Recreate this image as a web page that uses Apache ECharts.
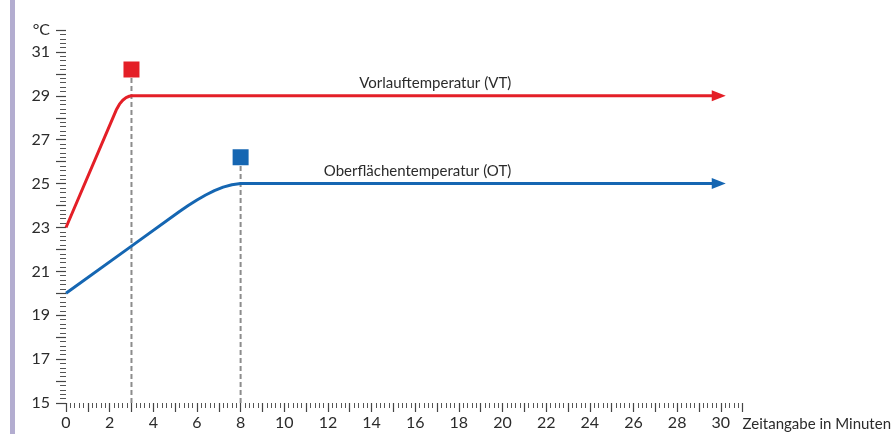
<!DOCTYPE html>
<html>
<head>
<meta charset="utf-8">
<script src="https://cdn.jsdelivr.net/npm/echarts@6/dist/echarts.min.js"></script>
<style>html,body{margin:0;padding:0;background:#fff}#c{width:894px;height:434px}</style>
</head>
<body>
<div id="c"></div>
<script>
// ---- data ----
const vtPoints = [[0, 23], [2.3, 28.35], [2.45, 28.62], [2.6, 28.8], [2.75, 28.92], [2.9, 28.98], [3, 29], [30, 29]];
const otPoints = [[0, 20], [3, 22.15], [5.2, 23.73], [5.6, 24.0], [6.0, 24.25], [6.4, 24.48], [6.8, 24.68], [7.2, 24.84], [7.6, 24.95], [8, 25], [30, 25]];
const vtMarker = [3, 30.2];
const otMarker = [8, 26.2];
const seriesNames = ['Vorlauftemperatur (VT)', 'Oberflächentemperatur (OT)'];
const yLabelValues = [15, 17, 19, 21, 23, 25, 27, 29, 31];
const xLabelValues = [0, 2, 4, 6, 8, 10, 12, 14, 16, 18, 20, 22, 24, 26, 28, 30];
const yUnit = '°C';
const xName = 'Zeitangabe in Minuten';

const RED = '#e41f27', BLUE = '#1566b2', GRAY = '#8c8c8c', TXT = '#2b2b2b';
const FONT = 'Lato';

function withArrow(points, color) {
  return points.map((p, i) => i === points.length - 1
    ? { value: p, symbol: 'triangle', symbolSize: [11, 14], symbolRotate: -90, symbolOffset: [-2, 0], itemStyle: { color, opacity: 1 } }
    : { value: p, symbol: 'none' });
}

const chart = echarts.init(document.getElementById('c'), null, { renderer: 'canvas' });
chart.setOption({
  animation: false,
  textStyle: { fontFamily: FONT },
  graphic: [{ type: 'rect', shape: { x: 10, y: 0, width: 5, height: 434 }, style: { fill: '#b3add0' } }],
  grid: { left: 66, right: 150, top: 30, bottom: 31 },
  xAxis: {
    type: 'value', min: 0, max: 31, interval: 1,
    axisLine: { show: false },
    splitLine: { show: false },
    axisTick: { show: true, length: 9, lineStyle: { color: '#444', width: 1.2 } },
    minorTick: { show: true, splitNumber: 5, length: 5, lineStyle: { color: '#555', width: 1 } },
    axisLabel: {
      margin: 12, color: TXT, fontSize: 16, fontFamily: FONT,
      formatter: v => xLabelValues.indexOf(v) >= 0 ? String(v) : ''
    },
    name: xName, nameLocation: 'end', nameGap: 0,
    nameTextStyle: { color: TXT, fontSize: 15, fontFamily: FONT, align: 'left', verticalAlign: 'top', padding: [14, 0, 0, 0] }
  },
  yAxis: {
    type: 'value', min: 15, max: 32, interval: 1,
    axisLine: { show: false },
    splitLine: { show: false },
    axisTick: { show: true, length: 10, lineStyle: { color: '#444', width: 1.2 } },
    minorTick: { show: true, splitNumber: 5, length: 6, lineStyle: { color: '#555', width: 1 } },
    axisLabel: {
      margin: 16, color: TXT, fontSize: 16, fontFamily: FONT,
      formatter: v => v === 32 ? yUnit : (yLabelValues.indexOf(v) >= 0 ? String(v) : '')
    }
  },
  series: [
    {
      type: 'line', data: [[vtMarker[0], 15], vtMarker], symbol: 'none', z: 1,
      lineStyle: { color: GRAY, width: 2, type: [5, 3] }
    },
    {
      type: 'line', data: [[otMarker[0], 15], otMarker], symbol: 'none', z: 1,
      lineStyle: { color: GRAY, width: 2, type: [5, 3] }
    },
    {
      name: seriesNames[0], type: 'line', data: withArrow(vtPoints, RED), z: 3,
      showSymbol: true,
      lineStyle: { color: RED, width: 3, join: 'round' }, itemStyle: { color: RED },
      markPoint: {
        symbol: 'rect', symbolSize: 0, silent: true,
        label: { show: true, position: 'inside', align: 'right', verticalAlign: 'bottom', offset: [0, -5],
          color: TXT, fontSize: 15, fontFamily: FONT, formatter: () => seriesNames[0] },
        data: [{ coord: [20.4, 29] }]
      }
    },
    {
      name: seriesNames[1], type: 'line', data: withArrow(otPoints, BLUE), z: 3,
      showSymbol: true,
      lineStyle: { color: BLUE, width: 3, join: 'round' }, itemStyle: { color: BLUE },
      markPoint: {
        symbol: 'rect', symbolSize: 0, silent: true,
        label: { show: true, position: 'inside', align: 'right', verticalAlign: 'bottom', offset: [0, -5],
          color: TXT, fontSize: 15, fontFamily: FONT, formatter: () => seriesNames[1] },
        data: [{ coord: [20.4, 25] }]
      }
    },
    {
      type: 'scatter', data: [vtMarker], symbol: 'rect', symbolSize: 16, z: 4,
      itemStyle: { color: RED, opacity: 1 }
    },
    {
      type: 'scatter', data: [otMarker], symbol: 'rect', symbolSize: 16, z: 4,
      itemStyle: { color: BLUE, opacity: 1 }
    }
  ]
});
</script>
</body>
</html>
